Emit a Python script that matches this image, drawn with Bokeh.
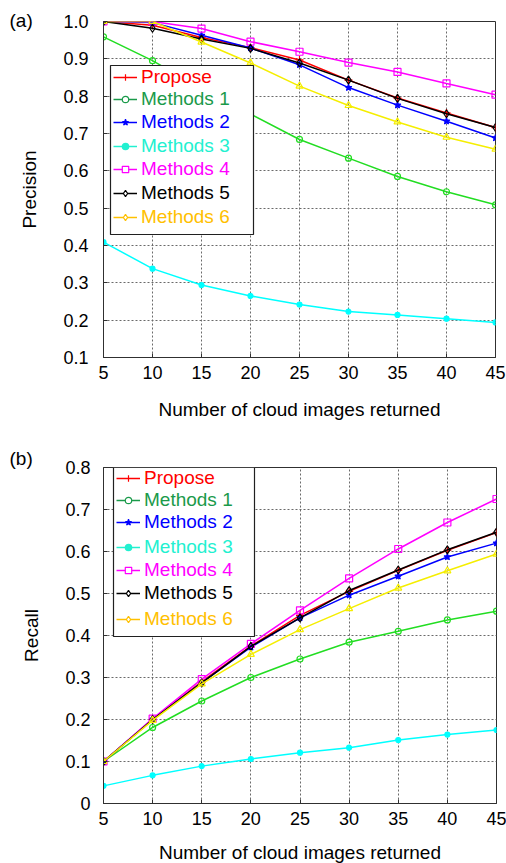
from bokeh.plotting import figure
from bokeh.models import (Legend, LegendItem, BoxAnnotation, FixedTicker,
                          PrintfTickFormatter, Range1d)
from bokeh.layouts import column
from bokeh.embed import file_html
from bokeh.resources import INLINE

# ---------------- data ----------------
x_vals = [5, 10, 15, 20, 25, 30, 35, 40, 45]
x_ticks = [5, 10, 15, 20, 25, 30, 35, 40, 45]

labels = ["Propose", "Methods 1", "Methods 2", "Methods 3", "Methods 4", "Methods 5", "Methods 6"]
panel_tags = ["(a)", "(b)"]

prec_propose = [1.0, 0.990, 0.957, 0.930, 0.897, 0.843, 0.795, 0.755, 0.716]
prec_m1 = [0.959, 0.895, 0.820, 0.752, 0.684, 0.634, 0.585, 0.544, 0.509]
prec_m2 = [1.0, 0.997, 0.963, 0.929, 0.884, 0.823, 0.776, 0.733, 0.688]
prec_m3 = [0.409, 0.338, 0.294, 0.265, 0.242, 0.223, 0.214, 0.204, 0.194]
prec_m4 = [1.0, 1.0, 0.981, 0.946, 0.919, 0.890, 0.865, 0.834, 0.804]
prec_m5 = [1.0, 0.982, 0.953, 0.928, 0.889, 0.843, 0.794, 0.753, 0.716]
prec_m6 = [1.0, 1.0, 0.945, 0.889, 0.827, 0.775, 0.731, 0.690, 0.658]

rec_propose = [0.1, 0.200, 0.290, 0.375, 0.448, 0.505, 0.555, 0.603, 0.645]
rec_m1 = [0.1, 0.181, 0.244, 0.300, 0.344, 0.384, 0.410, 0.437, 0.458]
rec_m2 = [0.1, 0.200, 0.288, 0.372, 0.442, 0.496, 0.541, 0.587, 0.620]
rec_m3 = [0.042, 0.067, 0.089, 0.106, 0.121, 0.133, 0.151, 0.164, 0.175]
rec_m4 = [0.1, 0.202, 0.296, 0.380, 0.460, 0.536, 0.606, 0.669, 0.725]
rec_m5 = [0.1, 0.200, 0.287, 0.374, 0.442, 0.507, 0.556, 0.604, 0.646]
rec_m6 = [0.1, 0.198, 0.285, 0.355, 0.414, 0.464, 0.513, 0.554, 0.594]

prec_ticks = [0.1, 0.2, 0.3, 0.4, 0.5, 0.6, 0.7, 0.8, 0.9, 1.0]
rec_ticks = [0.0, 0.1, 0.2, 0.3, 0.4, 0.5, 0.6, 0.7, 0.8]

# ---------------- styles ----------------
FONT = "Liberation Sans"
line_colors = ["#ff0000", "#22dd22", "#0000ff", "#00ffff", "#ff00ff", "#000000", "#f5ee00"]
legend_colors = ["#ff0000", "#1a9a4a", "#0000ff", "#22f0d0", "#ff00ff", "#000000", "#ffc000"]
markers = ["cross", "circle", "star", "circle", "square", "diamond", "triangle"]
legend_markers = ["cross", "circle", "star", "circle", "square", "diamond", "diamond"]
legend_filled = [False, False, True, True, False, False, False]
sizes = [8, 6, 7, 5, 7, 8, 7]
filled = [False, False, True, True, False, False, False]


def make_fig(ylabel, y0, y1, yticks, fmt_overrides, fw, fh, bl, br, bt, bb, ystand, xlab_stand):
    p = figure(output_backend="svg", toolbar_location=None,
               frame_width=fw, frame_height=fh,
               min_border_left=bl, min_border_right=br,
               min_border_top=bt, min_border_bottom=bb,
               x_range=Range1d(5, 45), y_range=Range1d(y0, y1))
    p.extra_x_ranges = {"legend_only": Range1d(1000, 1001)}
    p.background_fill_color = "white"
    p.border_fill_color = "white"
    p.outline_line_color = "#303030"
    p.outline_line_width = 1
    for ax in (p.xaxis[0], p.yaxis[0]):
        ax.axis_line_color = "#303030"
        ax.major_tick_line_color = "#303030"
        ax.major_tick_in = 4
        ax.major_tick_out = 0
        ax.minor_tick_line_color = None
        ax.major_label_text_font = FONT
        ax.major_label_text_font_size = "18px"
        ax.major_label_text_color = "black"
        ax.axis_label_text_font = FONT
        ax.axis_label_text_font_size = "19px"
        ax.axis_label_text_font_style = "normal"
        ax.axis_label_text_color = "black"
    p.xaxis.ticker = FixedTicker(ticks=x_ticks)
    p.yaxis.ticker = FixedTicker(ticks=yticks)
    p.yaxis.formatter = PrintfTickFormatter(format="%.1f")
    if fmt_overrides:
        p.yaxis.major_label_overrides = fmt_overrides
    p.xaxis.axis_label = "Number of cloud images returned"
    p.yaxis.axis_label = ylabel
    p.xaxis.major_label_standoff = 8
    p.xaxis.axis_label_standoff = xlab_stand
    p.yaxis.major_label_standoff = ystand
    p.yaxis.axis_label_standoff = 20
    p.grid.grid_line_color = "#6a6a6a"
    p.grid.grid_line_dash = "2 2"
    p.grid.grid_line_width = 1
    return p


def draw_series(p, series):
    for ys, lc, mk, sz, fl in zip(series, line_colors, markers, sizes, filled):
        p.line(x_vals, ys, line_color=lc, line_width=1.5)
        p.scatter(x_vals, ys, marker=mk, size=sz, line_color=lc, line_width=1.2,
                  fill_color=lc if fl else None)


def draw_legend(p, series, box, glyph_x, centers, frame_bottom_y):
    left, right, top, bottom = box
    p.add_layout(BoxAnnotation(left=left, right=right, top=top, bottom=bottom,
                               left_units="screen", right_units="screen",
                               top_units="screen", bottom_units="screen",
                               fill_color="white", fill_alpha=1.0,
                               line_color="#202020", line_width=1.2, line_alpha=1.0))
    for ys, lab, lc, mk, fl, cy in zip(series, labels, legend_colors, legend_markers,
                                       legend_filled, centers):
        # legend-only glyphs (mapped onto an off-frame range, so only the legend shows them)
        r1 = p.line(x_vals, ys, line_color=lc, line_width=1.5, x_range_name="legend_only")
        r2 = p.scatter(x_vals, ys, marker=mk, line_color=lc, line_width=1.2,
                       fill_color=lc if fl else "white", x_range_name="legend_only")
        h = 22
        leg = Legend(items=[LegendItem(label=lab, renderers=[r1, r2])],
                     location=(glyph_x, frame_bottom_y - cy - h / 2),
                     padding=0, margin=0, spacing=0,
                     border_line_alpha=0, background_fill_alpha=0,
                     glyph_width=24, glyph_height=16, label_height=h,
                     label_standoff=4,
                     label_text_font=FONT, label_text_font_size="19px",
                     label_text_color=lc)
        p.add_layout(leg)


def panel_tag(p, text, offset, standoff):
    p.title.text = text
    p.title.align = "left"
    p.title.offset = offset
    try:
        p.title.standoff = standoff
    except Exception:
        p.title.standoff = 0
    p.title.text_font = FONT
    p.title.text_font_size = "19px"
    p.title.text_font_style = "normal"
    p.title.text_color = "black"


# ---------------- figure (a) ----------------
# frame: left 103, top 21, bottom 357 (page coords)
p1 = make_fig("Precision", 0.1, 1.0, prec_ticks, None,
              392, 336, 103, 11, 21, 69, 15, 17)
prec_series = [prec_propose, prec_m1, prec_m2, prec_m3, prec_m4, prec_m5, prec_m6]
draw_series(p1, prec_series)
draw_legend(p1, prec_series, (7, 150, 292, 123), 10,
            [76.7, 99.3, 121.7, 146.0, 169.0, 193.3, 216.7], 357)
panel_tag(p1, panel_tags[0], -94, -18)

# ---------------- figure (b) ----------------
# frame top 467, bottom 803 (page coords); figure starts at 426
p2 = make_fig("Recall", 0.0, 0.8, rec_ticks, {0.0: "0"},
              393, 336, 100, 13, 41, 60, 13, 14)
rec_series = [rec_propose, rec_m1, rec_m2, rec_m3, rec_m4, rec_m5, rec_m6]
draw_series(p2, rec_series)
draw_legend(p2, rec_series, (10, 151, 336, 167), 13,
            [478.3, 500.0, 522.0, 546.7, 570.0, 593.3, 619.0], 803)
panel_tag(p2, panel_tags[1], -94, -3)

layout = column(p1, p2, spacing=0)
html = file_html(layout, INLINE)
html = html.replace("</head>", "<style>html,body{overflow:hidden;}</style></head>", 1)
open("out.html", "w").write(html)
